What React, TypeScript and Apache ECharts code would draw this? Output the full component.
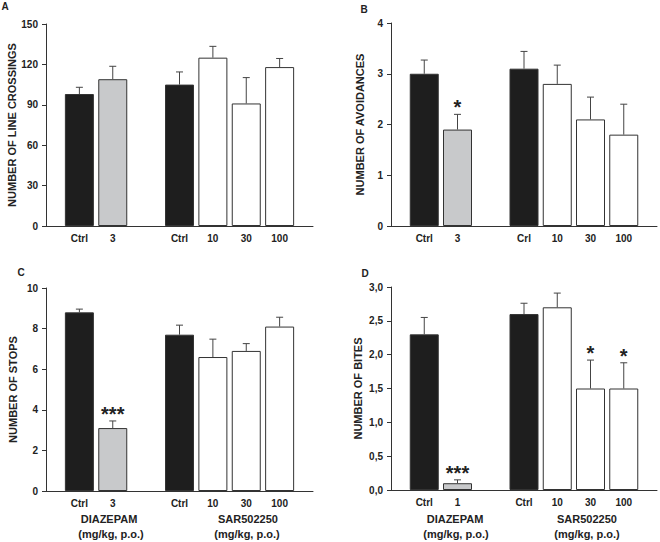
import React, { useEffect, useRef } from "react";
import * as echarts from "echarts";

// ---------- data ----------
const catsA = ["", "Ctrl", "3", "", "Ctrl", "10", "30", "100", ""];
const meanA = [null, 98, 109, null, 105, 125, 91, 118, null];
const semA = [null, 5, 9.6, null, 9.4, 8.4, 19.2, 6.4, null];
const starsA = ["", "", "", "", "", "", "", "", ""];

const catsB = ["", "Ctrl", "3", "", "Crl", "10", "30", "100", ""];
const meanB = [null, 3.0, 1.9, null, 3.1, 2.8, 2.1, 1.8, null];
const semB = [null, 0.27, 0.3, null, 0.34, 0.37, 0.44, 0.6, null];
const starsB = ["", "", "*", "", "", "", "", "", ""];

const catsC = ["", "Ctrl", "3", "", "Ctrl", "10", "30", "100", ""];
const meanC = [null, 8.8, 3.1, null, 7.7, 6.6, 6.9, 8.1, null];
const semC = [null, 0.16, 0.35, null, 0.47, 0.88, 0.36, 0.46, null];
const starsC = ["", "", "***", "", "", "", "", "", ""];

const catsD = ["", "Ctrl", "1", "", "Ctrl", "10", "30", "100", ""];
const meanD = [null, 2.3, 0.1, null, 2.6, 2.7, 1.5, 1.5, null];
const semD = [null, 0.25, 0.05, null, 0.16, 0.21, 0.42, 0.38, null];
const starsD = ["", "", "***", "", "", "", "*", "*", ""];

const groupKind = ["", "ctrl", "diaz", "", "ctrl", "sar", "sar", "sar", ""];

const yTitles = [
  "NUMBER OF LINE CROSSINGS",
  "NUMBER OF AVOIDANCES",
  "NUMBER OF STOPS",
  "NUMBER OF BITES",
];
const panelLetters = ["A", "B", "C", "D"];
const yMax = [150, 4, 10, 3];
const yInterval = [30, 1, 2, 0.5];
const drugLabel = ["DIAZEPAM", "SAR502250"];
const doseUnit = "(mg/kg, p.o.)";

// ---------- styles ----------
const FONT = "'Liberation Sans', Arial, Helvetica, sans-serif";
const TXT = "#222";
const AXIS = "#333";
const kindColor: Record<string, string> = {
  ctrl: "#1e1e1e",
  diaz: "#c8c9cb",
  sar: "#ffffff",
};

const grids = [
  { left: 46, top: 24, width: 267, height: 202 },
  { left: 391, top: 23, width: 267, height: 203 },
  { left: 46, top: 288, width: 267, height: 203 },
  { left: 391, top: 287, width: 267, height: 203 },
];
const nameGaps = [28, 26, 28, 28];

export default function App() {
  const ref = useRef<HTMLDivElement>(null);
  useEffect(() => {
    if (!ref.current) return;
    const chart = echarts.init(ref.current, undefined, { renderer: "svg" });

    const panels = [
      { cats: catsA, mean: meanA, sem: semA, stars: starsA },
      { cats: catsB, mean: meanB, sem: semB, stars: starsB },
      { cats: catsC, mean: meanC, sem: semC, stars: starsC },
      { cats: catsD, mean: meanD, sem: semD, stars: starsD },
    ];

    const xAxis: any[] = [];
    const yAxis: any[] = [];
    const series: any[] = [];

    panels.forEach((p, k) => {
      xAxis.push({
        type: "category",
        gridIndex: k,
        data: p.cats,
        boundaryGap: false,
        axisLine: { lineStyle: { color: AXIS, width: 1 } },
        axisTick: { show: false },
        axisLabel: {
          interval: 0,
          margin: 7,
          color: TXT,
          fontSize: 10,
          fontWeight: "bold",
          fontFamily: FONT,
        },
        splitLine: { show: false },
      });
      yAxis.push({
        type: "value",
        gridIndex: k,
        min: 0,
        max: yMax[k],
        interval: yInterval[k],
        name: yTitles[k],
        nameLocation: "middle",
        nameRotate: 90,
        nameGap: nameGaps[k],
        nameTextStyle: {
          color: TXT,
          fontSize: 11,
          fontWeight: "bold",
          fontFamily: FONT,
        },
        axisLine: { show: true, lineStyle: { color: AXIS, width: 1 } },
        axisTick: { show: true, length: 4, lineStyle: { color: AXIS } },
        axisLabel: {
          margin: 8,
          color: TXT,
          fontSize: 10,
          fontWeight: "bold",
          fontFamily: FONT,
          formatter: (v: number) =>
            k === 3 ? v.toFixed(1).replace(".", ",") : String(v),
        },
        splitLine: { show: false },
      });

      series.push({
        type: "bar",
        xAxisIndex: k,
        yAxisIndex: k,
        barWidth: 29,
        data: p.mean.map((v, i) =>
          v == null
            ? "-"
            : {
                value: v,
                itemStyle: {
                  color: kindColor[groupKind[i]],
                  borderColor: AXIS,
                  borderWidth: 1,
                },
              }
        ),
      });

      const errData: number[][] = [];
      p.mean.forEach((v, i) => {
        if (v != null) errData.push([i, v, p.sem[i] as number]);
      });
      series.push({
        type: "custom",
        xAxisIndex: k,
        yAxisIndex: k,
        z: 5,
        encode: { x: 0, y: 1 },
        data: errData,
        renderItem: (params: any, api: any) => {
          const idx = api.value(0);
          const m = api.value(1);
          const s = api.value(2);
          const base = api.coord([idx, m]);
          const top = api.coord([idx, m + s]);
          const children: any[] = [
            {
              type: "line",
              shape: { x1: base[0], y1: base[1], x2: base[0], y2: top[1] },
              style: { stroke: "#444", lineWidth: 1 },
            },
            {
              type: "line",
              shape: { x1: top[0] - 3.5, y1: top[1], x2: top[0] + 3.5, y2: top[1] },
              style: { stroke: "#444", lineWidth: 1 },
            },
          ];
          const star = p.stars[idx];
          if (star) {
            children.push({
              type: "text",
              style: {
                text: star,
                x: top[0],
                y: top[1] - 7,
                align: "center",
                verticalAlign: "middle",
                fontSize: 20,
                fontWeight: "bold",
                fontFamily: FONT,
                fill: TXT,
              },
            });
          }
          return { type: "group", children };
        },
      });
    });

    const textStyle = (t: string, x: number, y: number, size = 11) => ({
      type: "text",
      x,
      y,
      style: {
        text: t,
        fill: TXT,
        fontSize: size,
        fontWeight: "bold",
        fontFamily: FONT,
        align: "center",
        verticalAlign: "middle",
      },
    });

    const graphic: any[] = [
      textStyle(panelLetters[0], 5, 6, 10),
      textStyle(panelLetters[1], 364, 9, 10),
      textStyle(panelLetters[2], 21, 272, 10),
      textStyle(panelLetters[3], 365, 273, 10),
      textStyle(drugLabel[0], 109, 519),
      textStyle(doseUnit, 111, 534),
      textStyle(drugLabel[1], 248, 519),
      textStyle(doseUnit, 247, 534),
      textStyle(drugLabel[0], 455, 519),
      textStyle(doseUnit, 456, 534),
      textStyle(drugLabel[1], 587, 519),
      textStyle(doseUnit, 587, 534),
    ];

    chart.setOption({
      animation: false,
      backgroundColor: "#fff",
      grid: grids.map((g) => ({ ...g, containLabel: false })),
      xAxis,
      yAxis,
      series,
      graphic,
    });

    return () => chart.dispose();
  }, []);

  return (
    <div
      ref={ref}
      style={{ position: "fixed", left: 0, top: 0, width: 660, height: 542 }}
    />
  );
}
